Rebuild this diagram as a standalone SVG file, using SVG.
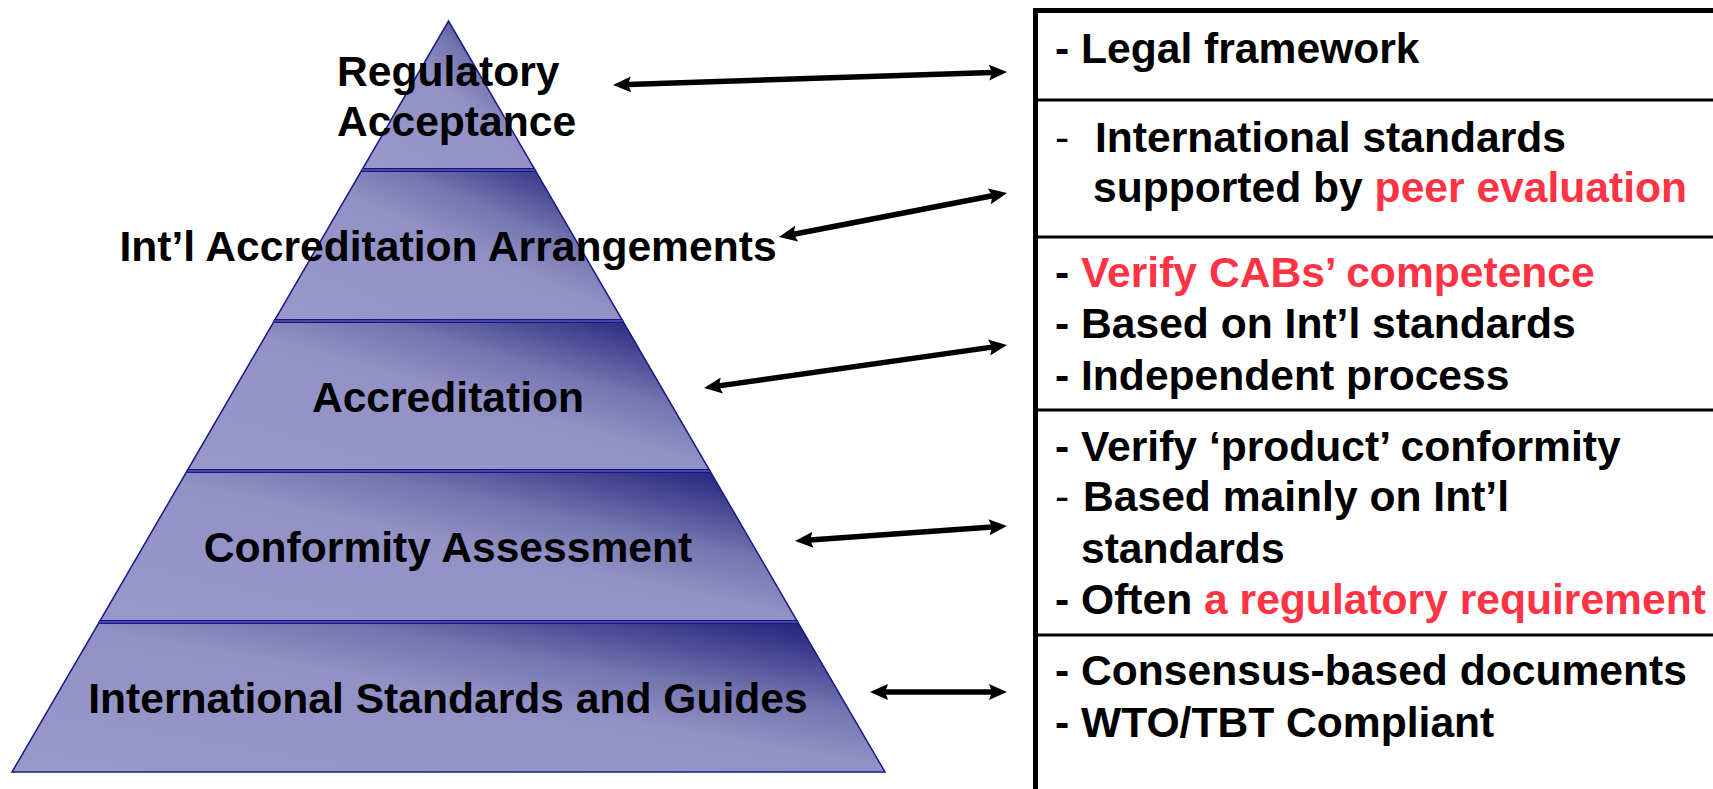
<svg xmlns="http://www.w3.org/2000/svg" width="1713" height="789" viewBox="0 0 1713 789">
<style>
.lbl{font-family:"Liberation Sans",Arial,sans-serif;font-weight:bold;font-size:42.6px;fill:#000}
.mid{text-anchor:middle}
.red{fill:#ff3344}
.thin{font-weight:normal}
.band{fill:url(#bandGrad);stroke:#1a1a8c;stroke-width:1.5}
.div{stroke:#16168a;stroke-width:4}
.divin{stroke:#7676bb;stroke-width:1}
.conn{stroke:#000;stroke-width:5.5;fill:none;marker-start:url(#ah);marker-end:url(#ah)}
.frame{stroke:#000;stroke-width:5;fill:none}
.sep{stroke:#000;stroke-width:3}
</style>
<defs>
<linearGradient id="bandGrad" x1="0" y1="1" x2="1" y2="0">
<stop offset="0" stop-color="#9898cb"/>
<stop offset="0.52" stop-color="#9191c5"/>
<stop offset="0.68" stop-color="#7575b0"/>
<stop offset="0.82" stop-color="#4a4a95"/>
<stop offset="0.92" stop-color="#2c2c82"/>
<stop offset="1" stop-color="#1c1c78"/>
</linearGradient>
<marker id="ah" markerUnits="userSpaceOnUse" markerWidth="20" markerHeight="18" viewBox="0 0 20 18" refX="3" refY="9" orient="auto-start-reverse">
<path d="M0,1 L18,9 L0,17 L3,9 Z" fill="#000"/>
</marker>
</defs>

<g id="pyramid">
<g id="node-regulatory">
<path class="band" d="M448.5,21 L535.1,170 L361.9,170 Z"/>
<text class="lbl" x="337" y="86">Regulatory</text>
<text class="lbl" x="337" y="136">Acceptance</text>
</g>
<g id="node-intl-arrangements">
<path class="band" d="M361.9,170 L535.1,170 L622.8,321 L274.2,321 Z"/>
<text class="lbl mid" x="448" y="261">Int’l Accreditation Arrangements</text>
</g>
<g id="node-accreditation">
<path class="band" d="M274.2,321 L622.8,321 L710,471 L187,471 Z"/>
<text class="lbl mid" x="448" y="412">Accreditation</text>
</g>
<g id="node-conformity">
<path class="band" d="M187,471 L710,471 L797.7,622 L99.3,622 Z"/>
<text class="lbl mid" x="448" y="562">Conformity Assessment</text>
</g>
<g id="node-standards">
<path class="band" d="M99.3,622 L797.7,622 L885,772 L12,772 Z"/>
<text class="lbl mid" x="448" y="713">International Standards and Guides</text>
</g>
<g id="dividers">
<line class="div" x1="361.9" y1="170" x2="535.1" y2="170"/>
<line class="divin" x1="362" y1="170" x2="535" y2="170"/>
<line class="div" x1="274.2" y1="321" x2="622.8" y2="321"/>
<line class="divin" x1="274.5" y1="321" x2="622.5" y2="321"/>
<line class="div" x1="187" y1="471" x2="710" y2="471"/>
<line class="divin" x1="187.5" y1="471" x2="709.5" y2="471"/>
<line class="div" x1="99.3" y1="622" x2="797.7" y2="622"/>
<line class="divin" x1="99.5" y1="622" x2="797.5" y2="622"/>
</g>
</g>

<g id="connectors">
<line class="conn" x1="628" y1="84.5" x2="992" y2="72.5"/>
<line class="conn" x1="793.7" y1="234.2" x2="992.3" y2="195.8"/>
<line class="conn" x1="718.9" y1="385.9" x2="992.1" y2="347.1"/>
<line class="conn" x1="810" y1="540" x2="992" y2="527"/>
<line class="conn" x1="885" y1="692" x2="992" y2="692"/>
</g>

<g id="table">
<path class="frame" d="M1035.5,795 L1035.5,10.5 L1720,10.5"/>
<line class="sep" x1="1035" y1="100" x2="1713" y2="100"/>
<line class="sep" x1="1035" y1="237" x2="1713" y2="237"/>
<line class="sep" x1="1035" y1="410" x2="1713" y2="410"/>
<line class="sep" x1="1035" y1="635" x2="1713" y2="635"/>
<g id="node-legal">
<text class="lbl" x="1055" y="63">- Legal framework</text>
</g>
<g id="node-peer">
<text class="lbl" x="1055" y="152"><tspan class="thin">-</tspan><tspan x="1095">International standards</tspan></text>
<text class="lbl" x="1093" y="202">supported by <tspan class="red">peer evaluation</tspan></text>
</g>
<g id="node-cabs">
<text class="lbl" x="1055" y="287">- <tspan class="red">Verify CABs’ competence</tspan></text>
<text class="lbl" x="1055" y="338">- Based on Int’l standards</text>
<text class="lbl" x="1055" y="390">- Independent process</text>
</g>
<g id="node-product">
<text class="lbl" x="1055" y="461">- Verify ‘product’ conformity</text>
<text class="lbl" x="1055" y="511"><tspan class="thin">-</tspan><tspan x="1083">Based mainly on Int’l</tspan></text>
<text class="lbl" x="1081" y="563">standards</text>
<text class="lbl" x="1055" y="614">- Often <tspan class="red">a regulatory requirement</tspan></text>
</g>
<g id="node-consensus">
<text class="lbl" x="1055" y="685">- Consensus-based documents</text>
<text class="lbl" x="1055" y="737">- WTO/TBT Compliant</text>
</g>
</g>
</svg>
